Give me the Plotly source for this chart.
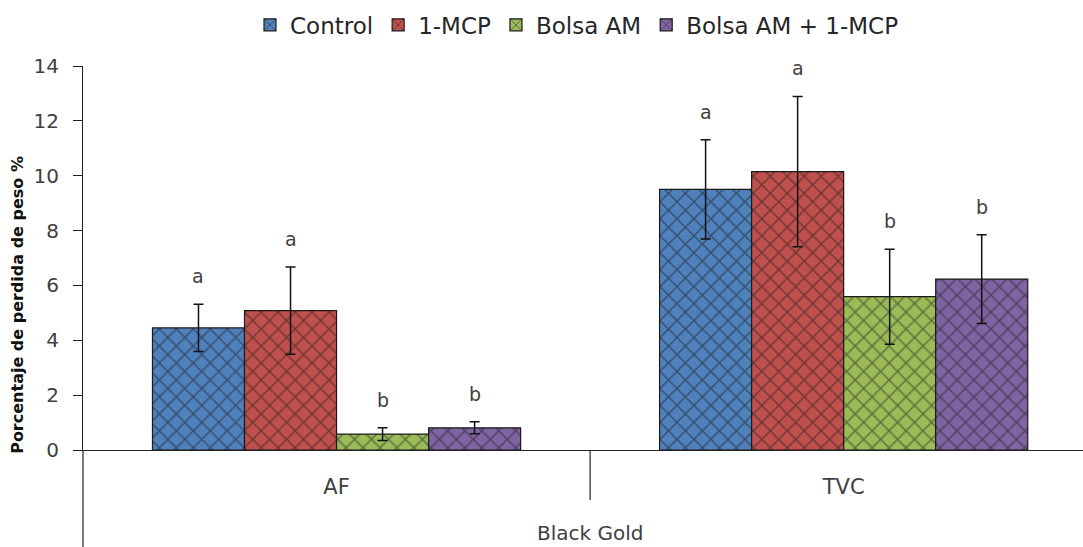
import plotly.graph_objects as go

categories = ["AF", "TVC"]
series_names = ["Control", "1-MCP", "Bolsa AM", "Bolsa AM + 1-MCP"]
values = {
    "Control": [4.45, 9.50],
    "1-MCP": [5.08, 10.15],
    "Bolsa AM": [0.58, 5.59],
    "Bolsa AM + 1-MCP": [0.81, 6.23],
}
errors = {
    "Control": [0.86, 1.81],
    "1-MCP": [1.59, 2.74],
    "Bolsa AM": [0.23, 1.73],
    "Bolsa AM + 1-MCP": [0.22, 1.62],
}
letters = {
    "Control": ["a", "a"],
    "1-MCP": ["a", "a"],
    "Bolsa AM": ["b", "b"],
    "Bolsa AM + 1-MCP": ["b", "b"],
}
colors = ["#4F81BD", "#C0504D", "#9BBB59", "#8064A2"]
group_label = "Black Gold"
y_title = "Porcentaje de perdida de peso %"
y_ticks = [0, 2, 4, 6, 8, 10, 12, 14]

FONT = "'DejaVu Sans', sans-serif"
W, H = 1083, 547
ML, MR, MT, MB = 83, 0, 66, 97

fig = go.Figure()
for name, col in zip(series_names, colors):
    fig.add_trace(go.Bar(
        name=name,
        x=categories,
        y=values[name],
        error_y=dict(type="data", array=errors[name], color="#111111",
                     thickness=1.5, width=5),
        marker=dict(color=col, line=dict(color="#1a1a1a", width=1.2),
                    pattern=dict(shape="x", fgcolor="#1a1a1a", size=12,
                                 solidity=0.22, fillmode="overlay")),
    ))

n = len(series_names)
bargap = 0.274
bw = (1 - bargap) / n
annotations = []
for i, name in enumerate(series_names):
    for j, cat in enumerate(categories):
        xpos = j - (1 - bargap) / 2 + bw * (i + 0.5)
        annotations.append(dict(
            x=xpos, y=values[name][j] + errors[name][j], xref="x", yref="y",
            text=letters[name][j], showarrow=False, yanchor="middle",
            yshift=28, font=dict(family=FONT, size=19, color="#404040")))

annotations.append(dict(
    x=0.507, y=-0.215, xref="paper", yref="paper", text=group_label,
    showarrow=False, xanchor="center", yanchor="middle",
    font=dict(family=FONT, size=20, color="#404040")))

annotations.append(dict(
    x=-0.065, y=0.378, xref="paper", yref="paper",
    text="<b>" + y_title + "</b>", textangle=-90,
    showarrow=False, xanchor="center", yanchor="middle",
    font=dict(family=FONT, size=16, color="#111111")))

shapes = [
    dict(type="line", xref="x", yref="paper", x0=0.5, x1=0.5, y0=0, y1=-0.13,
         line=dict(color="#222222", width=1.2)),
    dict(type="line", xref="paper", yref="paper", x0=0, x1=0, y0=0, y1=-0.26,
         line=dict(color="#222222", width=1.2)),
]

fig.update_layout(
    width=W, height=H,
    margin=dict(l=ML, r=MR, t=MT, b=MB),
    plot_bgcolor="white", paper_bgcolor="white",
    barmode="group", bargap=bargap, bargroupgap=0,
    font=dict(family=FONT, color="#404040"),
    legend=dict(orientation="h", x=0.494, xanchor="center", y=1.107,
                yanchor="middle", font=dict(family=FONT, size=23, color="#262626"),
                itemwidth=30, traceorder="normal"),
    xaxis=dict(range=[-0.5, 1.472], showline=True, linecolor="#222222",
               linewidth=1.2, ticks="", tickfont=dict(family=FONT, size=21, color="#404040"),
               ticklabelstandoff=18, showgrid=False, zeroline=False),
    yaxis=dict(range=[0, 14], tickvals=y_ticks, showline=True, linecolor="#222222",
               linewidth=1.2, ticks="outside", ticklen=9, tickcolor="#222222",
               tickfont=dict(family=FONT, size=20, color="#404040"),
               ticklabelstandoff=10,
               showgrid=False, zeroline=False),
    annotations=annotations,
    shapes=shapes,
)

fig.write_html("out.html")
